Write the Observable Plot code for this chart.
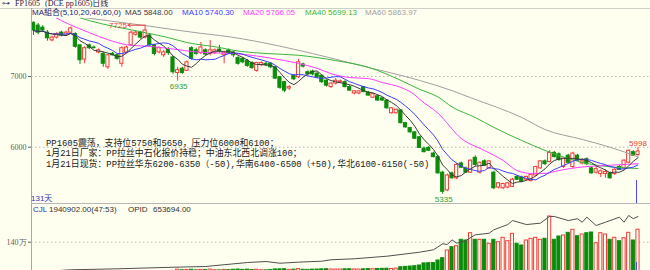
<!DOCTYPE html>
<html>
<head>
<meta charset="utf-8">
<script src="https://cdn.jsdelivr.net/npm/d3@7"></script>
<script src="https://cdn.jsdelivr.net/npm/@observablehq/plot@0.6"></script>
<style>
  html, body { margin: 0; padding: 0; background: #fffff0; }
  #chart { position: relative; width: 650px; height: 270px; overflow: hidden; background: #fffff0; }
  .t { position: absolute; white-space: nowrap; font-family: "Liberation Sans", Arial, "Noto Sans CJK SC", sans-serif; font-size: 8px; line-height: 10px; }
  .panel { position: absolute; left: 0; width: 650px; overflow: hidden; }
  .ln { position: absolute; }
</style>
</head>
<body>
<div id="chart"></div>
<script>
// ---------- data ----------
const opens = [7760,7720,7690,7620,7510,7550,7620,7580,7620,7600,
7440,7240,7440,7410,7340,7320,7130,7320,7300,7180,
7340,7440,7590,7620,7550,7580,7440,7340,7300,7370,
7270,7050,7110,7080,7400,7370,7330,7370,7320,7330,
7380,7300,7370,7340,7260,7250,7220,7190,7080,7160,
7180,7180,7130,6990,6920,6830,7010,6990,7170,7060,
7070,7040,7010,6940,6850,6900,6920,6920,6850,6760,
6760,6850,6770,6700,6720,6690,6660,6480,6480,6520,
6340,6270,6210,6140,5980,5990,5910,5860,5640,5390,
5630,5560,5770,5700,5640,5850,5640,5800,5700,5640,
5430,5420,5430,5440,5580,5570,5540,5520,5600,5700,
5800,5790,5920,5900,5720,5880,5720,5880,5770,5830,
5700,5640,5620,5620,5630,5620,5720,5700,5780,5930,
5890];
const highs = [7770,7750,7720,7650,7570,7620,7640,7640,7700,7620,
7450,7420,7460,7430,7390,7340,7310,7340,7320,7420,
7430,7640,7640,7640,7725,7600,7450,7420,7370,7410,
7280,7130,7130,7220,7420,7400,7480,7390,7510,7390,
7440,7360,7390,7360,7280,7270,7240,7210,7200,7210,
7200,7200,7140,7000,6930,6870,7030,7240,7190,7080,
7090,7060,7020,6950,6910,6970,6950,6940,6870,6800,
6800,6860,6790,6760,6740,6700,6670,6560,6540,6530,
6350,6280,6220,6150,6000,6010,5930,5880,5660,5620,
5650,5770,5790,5720,5820,5880,5790,5820,5810,5660,
5500,5490,5500,5560,5600,5590,5590,5620,5730,5810,
5820,5950,5940,5920,5850,5900,5930,5900,5840,5850,
5720,5720,5680,5680,5650,5700,5740,5820,5960,5950,
5998];
const lows = [7580,7590,7620,7500,7490,7530,7560,7570,7600,7400,
7170,7180,7380,7390,7320,7130,7100,7290,7230,7130,
7320,7430,7570,7530,7530,7420,7290,7320,7270,7300,
7030,6935,7030,7070,7230,7300,7310,7290,7290,7310,
7330,7180,7310,7270,7160,7180,7130,7100,7060,7140,
7140,7110,6960,6820,6770,6800,6940,6970,7120,7010,
7010,6970,6900,6850,6830,6880,6900,6840,6790,6740,
6740,6770,6720,6690,6650,6650,6540,6470,6470,6330,
6270,6200,6110,5980,5920,5940,5850,5620,5335,5370,
5550,5540,5700,5630,5630,5730,5620,5730,5690,5400,
5410,5400,5410,5430,5530,5500,5520,5510,5590,5690,
5740,5780,5850,5800,5700,5770,5700,5800,5750,5740,
5620,5620,5570,5560,5550,5600,5670,5690,5770,5870,
5870];
const closes = [7650,7620,7650,7540,7550,7600,7580,7620,7680,7420,
7230,7400,7400,7400,7370,7180,7300,7300,7250,7400,
7410,7620,7620,7550,7650,7440,7320,7400,7340,7330,
7060,7090,7050,7200,7250,7320,7410,7310,7370,7370,
7350,7340,7330,7300,7180,7200,7150,7120,7190,7190,
7160,7130,6970,6840,6800,6850,6960,7200,7140,7030,
7030,6990,6920,6870,6900,6940,6930,6850,6800,6790,
6790,6780,6730,6750,6660,6660,6550,6550,6530,6340,
6280,6210,6120,5990,5930,5950,5860,5630,5370,5600,
5560,5750,5710,5640,5810,5750,5780,5740,5800,5420,
5490,5480,5490,5540,5540,5510,5580,5610,5720,5800,
5760,5920,5860,5820,5840,5780,5910,5810,5800,5760,
5630,5690,5660,5650,5560,5680,5680,5810,5950,5880,
5940];
const volumes = [120000,95000,110000,130000,100000,90000,105000,115000,98000,140000,
150000,125000,100000,92000,110000,135000,128000,96000,104000,138000,
118000,145000,112000,120000,140000,132000,126000,108000,115000,100000,
155000,210000,185000,195000,205000,180000,200000,190000,215000,185000,
178000,200000,190000,205000,215000,200000,210000,195000,205000,185000,
180000,195000,220000,225000,230000,200000,210000,235000,205000,200000,
210000,215000,225000,230000,220000,210000,215000,225000,230000,220000,
215000,225000,235000,230000,240000,245000,250000,240000,255000,316000,
330000,345000,360000,390000,480000,490000,495000,607000,707000,1040000,
1183000,1227000,1504000,1474000,1790000,1504000,1504000,1504000,1331000,1504000,
1400000,1591000,1443000,1764000,1331000,1257000,1474000,1547000,1591000,1504000,
1547000,2514000,1504000,1647000,1690000,1807000,1937000,1660000,1734000,1790000,
1820000,1357000,1790000,1734000,1504000,1591000,1443000,1573000,1807000,1474000,
1940902];

// open interest, read at the marked days
const oiIdx  = [0,4,8,18,30,37,46,50,53,57,62,64,69,76,83,86,88,89,90,91,93,95,98,99,102,103,106,109,111,112,115,117,118,119,121,123,126,127,128,129,130];
const oiVals = [30000,40000,53000,64000,82000,90000,135000,146000,127000,139000,150000,166000,177000,206000,251000,278000,346000,338000,391000,353000,383000,447000,465000,504000,563000,608000,563000,578000,654000,654000,608000,628000,589000,646000,552000,589000,646000,589000,665000,628000,653694];

// long moving averages, read at the marked days
const ma20Idx  = [0,2,6,12,16,20,26,31,36,43,50,54,57,61,64,68,72,75,79,82,83,87,92,97,101,104,107,110,113,117,120,124,130];
const ma20Vals = [7990,7930,7790,7620,7520,7450,7420,7380,7340,7325,7270,7225,7185,7115,7040,6985,6970,6915,6845,6740,6680,6480,6123,5953,5812,5670,5630,5630,5670,5713,5730,5745,5766.05];
const ma40Idx  = [0,8,12,24,29,33,40,43,50,57,65,72,79,83,87,90,95,99,105,110,115,119,123,130];
const ma40Vals = [8010,7870,7790,7620,7550,7480,7410,7370,7325,7300,7225,7130,6945,6820,6710,6570,6420,6280,6095,5955,5840,5770,5730,5699.13];
const ma60Idx  = [0,10,24,36,40,60,70,83,90,94,105,110,118,124,130];
const ma60Vals = [7930,7840,7720,7610,7580,7325,7160,6945,6800,6700,6420,6250,6110,6000,5863.97];

const priceTicks = [6000, 7000];
const volTicks = [1400000];
const volTickLabels = ["140万"];

const maNames = ["MA5", "MA10", "MA20", "MA40", "MA60"];
const maLegendValues = ["5848.00", "5740.30", "5766.05", "5699.13", "5863.97"];
const maGroupText = "MA組合(5,10,20,40,60,0)";
const titleText = ["FP1605", "(DCE pp1605)日线"];
const dayCountText = "131天";
const volumeText = ["CJL", "1940902.00(47:53)", "OPID", "653694.00"];
const notes = [
  "PP1605震荡，支持位5750和5650，压力位6000和6100；",
  "1月21日厂家：PP拉丝中石化报价持稳；中油东北西北调涨100；",
  "1月21日现货：PP拉丝华东6200-6350（-50),华南6400-6500（+50),华北6100-6150(-50)"
];
const labelIdx = [24, 31, 88, 130];
const labelKind = ["high", "low", "low", "high"];

// ---------- build ----------
const N = closes.length;
const candles = d3.range(N).map(i => ({i, o: opens[i], h: highs[i], l: lows[i], c: closes[i], v: volumes[i]}));
const RED = "#f03a3a", GREEN = "#0b8c0b", BG = "#fffff0";
const up = d => d.c >= d.o;
const colorOf = d => up(d) ? RED : GREEN;
const fillOf = d => up(d) ? BG : GREEN;
const maColors = ["#3a3a3a", "#3c3cff", "#ff3cff", "#3cb43c", "#a0a0a0"];
const toPts = (idx, vals) => idx.map((i, k) => ({i, v: vals[k]}));
const ma20 = toPts(ma20Idx, ma20Vals), ma40 = toPts(ma40Idx, ma40Vals), ma60 = toPts(ma60Idx, ma60Vals);
const oi = toPts(oiIdx, oiVals);
const HW = 0.34;
const X = {domain: [-0.43, 132.69], axis: null};
const axStyle = {background: "transparent", overflow: "hidden", fontFamily: "Liberation Serif, serif", fontSize: "8px", color: "#606060"};

const labels = labelIdx.map((i, k) => ({i, kind: labelKind[k], v: labelKind[k] === "high" ? highs[i] : lows[i]}));
const hiLbl = labels.filter((d, k) => k === 0);
const lowLbls = labels.filter(d => d.kind === "low");
const endLbl = labels.filter((d, k) => k === labels.length - 1);
const lblFont = {fontFamily: "Liberation Sans, Arial, sans-serif", fontSize: 8};

const mainPlot = Plot.plot({
  width: 650, height: 185, marginLeft: 31, marginRight: 0, marginTop: 0, marginBottom: 0,
  style: axStyle,
  x: X,
  y: {domain: [5204, 7820], ticks: priceTicks, tickSize: 3, tickPadding: 2, tickFormat: d => String(d), label: null},
  marks: [
    Plot.ruleY(priceTicks, {stroke: "#b4b4b4", strokeDasharray: "1.5,2.5"}),
    Plot.ruleX(candles, {x: "i", y1: "l", y2: "h", stroke: colorOf, strokeWidth: 1}),
    Plot.rect(candles, {x1: d => d.i - HW, x2: d => d.i + HW, y1: "o", y2: "c", fill: fillOf, stroke: colorOf, strokeWidth: 1}),
    Plot.line(ma60, {x: "i", y: "v", stroke: maColors[4], strokeWidth: 1, curve: "monotone-x", clip: true}),
    Plot.line(ma40, {x: "i", y: "v", stroke: maColors[3], strokeWidth: 1, curve: "monotone-x", clip: true}),
    Plot.line(ma20, {x: "i", y: "v", stroke: maColors[2], strokeWidth: 1, curve: "monotone-x", clip: true}),
    Plot.lineY(candles, Plot.windowY({k: 10, anchor: "end"}, {x: "i", y: "c", stroke: maColors[1], strokeWidth: 1, clip: true})),
    Plot.lineY(candles, Plot.windowY({k: 5, anchor: "end"}, {x: "i", y: "c", stroke: maColors[0], strokeWidth: 1, clip: true})),
    Plot.arrow(hiLbl, {x1: "i", y1: "v", x2: d => d.i - 3.7, y2: "v", stroke: RED, strokeWidth: 1, headLength: 4, bend: 0}),
    Plot.text(hiLbl, {x: d => d.i - 3.7, y: "v", text: d => String(d.v), textAnchor: "end", dx: -1, fill: RED, ...lblFont}),
    Plot.text(lowLbls, {x: "i", y: "v", text: d => String(d.v), lineAnchor: "top", dy: 2, dx: 1, fill: "#2e9e2e", ...lblFont}),
    Plot.text(endLbl, {x: "i", y: "v", text: d => String(d.v), lineAnchor: "bottom", dy: -1, fill: RED, ...lblFont})
  ]
});

const volPlot = Plot.plot({
  width: 650, height: 71, marginLeft: 31, marginRight: 0, marginTop: 0, marginBottom: 0,
  style: axStyle,
  x: X,
  y: {domain: [0, 3077424], ticks: volTicks, tickSize: 3, tickPadding: 2, tickFormat: d => volTickLabels[volTicks.indexOf(d)], label: null},
  marks: [
    Plot.ruleY(volTicks, {stroke: "#b4b4b4", strokeDasharray: "1.5,2.5"}),
    Plot.rect(candles, {x1: d => d.i - HW, x2: d => d.i + HW, y1: 0, y2: "v", fill: fillOf, stroke: colorOf, strokeWidth: 1})
  ]
});

const oiPlot = Plot.plot({
  width: 650, height: 71, marginLeft: 31, marginRight: 0, marginTop: 0, marginBottom: 0,
  style: {background: "transparent", overflow: "hidden"},
  x: X,
  y: {domain: [0, 800000], axis: null},
  marks: [
    Plot.line(oi, {x: "i", y: "v", stroke: "#505050", strokeWidth: 1})
  ]
});

const chart = document.getElementById("chart");
function panel(top, height, node) {
  const p = document.createElement("div");
  p.className = "panel";
  p.style.top = top + "px"; p.style.height = height + "px";
  p.appendChild(node); chart.appendChild(p);
  node.style.position = "absolute"; node.style.left = "0"; node.style.top = "0";
}
panel(18, 185, mainPlot);
panel(203, 67, volPlot);
panel(203, 67, oiPlot);

function line(left, top, w, h, color) {
  const d = document.createElement("div");
  d.className = "ln";
  Object.assign(d.style, {left: left + "px", top: top + "px", width: w + "px", height: h + "px", background: color});
  chart.appendChild(d);
}
line(0, 8, 650, 1, "#d0d0c8");
line(31, 8, 1, 262, "#a8a8a8");
line(31, 203, 619, 1, "#b8b8b8");
line(636, 180, 1, 23, "#4848ff");
line(636, 262, 1, 8, "#4848ff");

function text(str, left, cy, color, opts = {}) {
  const d = document.createElement("div");
  d.className = "t";
  d.textContent = str;
  const fs = opts.size || 8, lh = opts.lh || 10;
  Object.assign(d.style, {left: left + "px", top: (cy - lh / 2) + "px", color, fontSize: fs + "px", lineHeight: lh + "px"});
  if (opts.family) d.style.fontFamily = opts.family;
  if (opts.pre) d.style.whiteSpace = "pre";
  chart.appendChild(d);
  return d;
}
// title row
text("⊶", 2, 3.5, "#303060", {family: "DejaVu Sans", size: 8});
text(titleText[0], 15, 3.5, "#202050", {family: "Liberation Serif, serif", size: 8});
text(titleText[1], 45, 3.5, "#202050", {family: "Liberation Serif, 'Noto Sans CJK SC', serif", size: 8});
// MA legend
text(maGroupText, 32, 13.3, "#202070");
const legendX = [125, 182, 243, 305, 365];
maNames.forEach((n, k) => text(n + " " + maLegendValues[k], legendX[k], 13.3, maColors[k]));
// day count
text(dayCountText, 31, 199, "#3030c0", {family: "Liberation Sans, 'Noto Sans CJK SC', sans-serif"});
// volume header
text(volumeText[0], 33, 210, "#3030c0");
text(volumeText[1], 49, 210, "#303030");
text(volumeText[2], 128, 210, "#303030");
text(volumeText[3], 153, 210, "#303030");
// notes: one text block, three lines
const nb = text(notes.join("\n"), 46, 144, "#202020", {family: "'Liberation Mono', 'Noto Sans CJK SC', monospace", size: 8.9, lh: 10.6, pre: true});
nb.style.top = (144 - 5.3) + "px";
</script>
</body>
</html>
